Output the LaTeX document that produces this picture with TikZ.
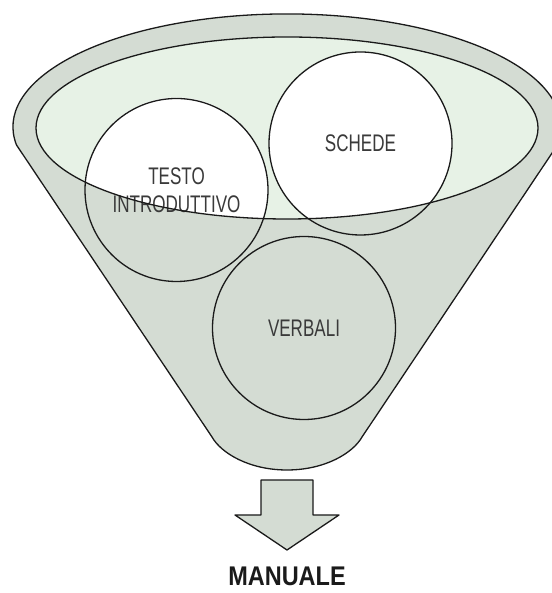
\documentclass[tikz,border=0pt]{standalone}
\usepackage{fontspec}
\newfontfamily\condfont{Liberation Sans}[FakeStretch=0.71]
\newfontfamily\mancond{Liberation Sans}[FakeStretch=0.87]
\definecolor{funnelfill}{RGB}{212,220,211}
\definecolor{innerfill}{RGB}{231,242,230}
\definecolor{labcol}{RGB}{58,58,58}
\definecolor{outline}{RGB}{26,26,26}
\begin{document}
\begin{tikzpicture}[x=1pt,y=1pt,line width=1.3pt,
  bubble/.style={circle,draw=outline,minimum size=183pt,inner sep=0pt,align=center,
    text=labcol,font=\condfont\fontsize{24}{28}\selectfont},
  shapeline/.style={draw=outline,line join=round}]
\useasboundingbox (0,0) rectangle (551,593);
% funnel body
\path[shapeline,fill=funnelfill] (16.5,448) coordinate (fl)
  arc[start angle=189.2,end angle=-9.2,x radius=274pt,y radius=113pt] coordinate (fr)
  -- (362,156) .. controls (353,140) and (325,123) .. (287,123)
  .. controls (249,123) and (221,140) .. (212,156) -- cycle;
% inner ellipse fill
\fill[innerfill] (287,465) ellipse[x radius=251pt,y radius=91pt];
% white parts of the circles inside the inner ellipse
\begin{scope}
  \clip (287,465) ellipse[x radius=251pt,y radius=91pt];
  \fill[white] (176.5,404) circle[radius=91.5pt];
  \fill[white] (360.5,449.5) circle[radius=91.5pt];
\end{scope}
% circles with labels
\node[bubble] (schede) at (360.5,449.5) {SCHEDE};
\node[bubble] (verbali) at (304,265) {VERBALI};
\node[bubble] (testo) at (176.5,403) {TESTO\\INTRODUTTIVO};
% inner ellipse outline
\draw[shapeline] (287,465) ellipse[x radius=251pt,y radius=91pt];
% arrow
\draw[shapeline,fill=funnelfill] (261,113) -- (313,113) -- (313,78) -- (339,78)
  -- (287,43) -- (235,78) -- (261,78) -- cycle;
% output label
\node[anchor=base,inner sep=0pt,text=outline,font=\mancond\bfseries\fontsize{27}{31}\selectfont] (manuale) at (287,7) {MANUALE};
\end{tikzpicture}
\end{document}
